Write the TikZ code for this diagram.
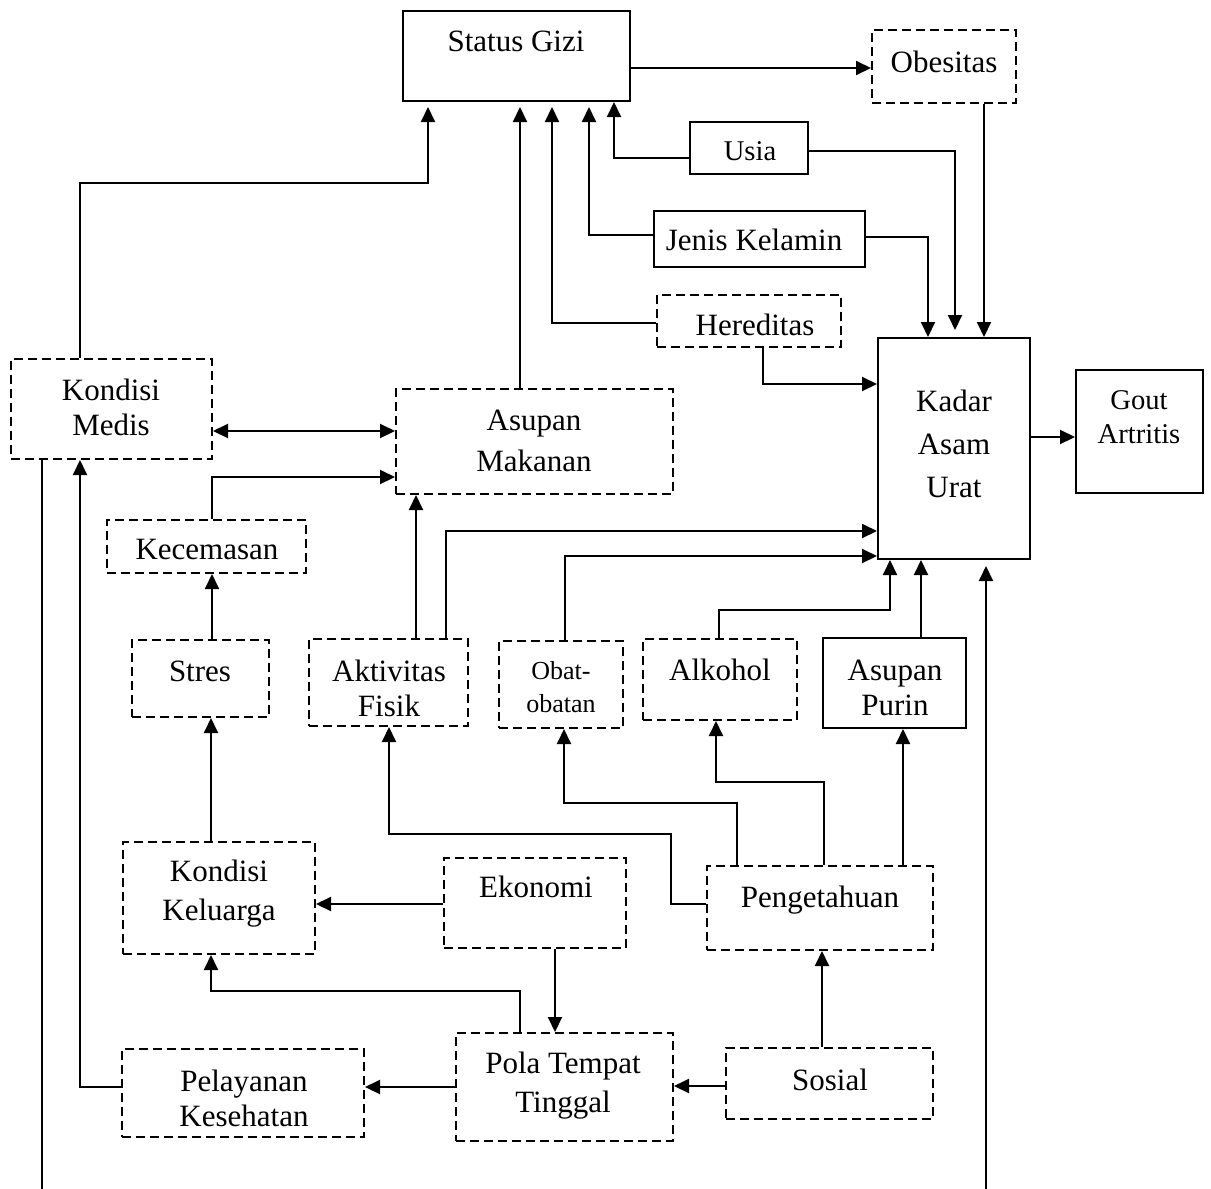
\documentclass[tikz,border=0pt]{standalone}
\usepackage{fontspec}
\setmainfont{Liberation Serif}
\usetikzlibrary{arrows.meta,fit}

\begin{document}
\begin{tikzpicture}[x=0.5pt,y=-0.5pt,
  solidbox/.style={draw, line width=1pt, inner sep=0pt},
  dashbox/.style={draw, line width=1pt, inner sep=0pt, dash pattern=on 4.5pt off 2.5pt},
  lbl/.style={font=\fontsize{15.5}{17.5}\selectfont, align=center, inner sep=0pt},
  smalllbl/.style={font=\fontsize{14.3}{17}\selectfont, align=center, inner sep=0pt},
  conn/.style={line width=1pt},
  arr/.style={conn, -{Triangle[length=7.5pt,width=7pt]}},
  arrtwo/.style={conn, {Triangle[length=7.5pt,width=7pt]}-{Triangle[length=7.5pt,width=7pt]}},
  gap/.style={shorten >=2.5pt}]

\useasboundingbox (0,0) rectangle (1211,1189);

% ---------- boxes ----------
\node[solidbox, fit={(403,11) (630,101)}]  (sg) {};
\node[dashbox,  fit={(872,30) (1016,103)}] (ob) {};
\node[solidbox, fit={(690,122) (808,174)}] (us) {};
\node[solidbox, fit={(654,211) (865,267)}] (jk) {};
\node[dashbox,  fit={(657,295) (841,347)}] (he) {};
\node[dashbox,  fit={(11,359) (212,459)}]  (km) {};
\node[dashbox,  fit={(396,389) (673,494)}] (am) {};
\node[solidbox, fit={(878,338) (1030,559)}] (ka) {};
\node[solidbox, fit={(1076,370) (1203,493)}] (ga) {};
\node[dashbox,  fit={(107,520) (306,573)}] (kc) {};
\node[dashbox,  fit={(132,640) (269,717)}] (st) {};
\node[dashbox,  fit={(309,639) (468,726)}] (af) {};
\node[dashbox,  fit={(499,641) (623,728)}] (oo) {};
\node[dashbox,  fit={(643,639) (797,720)}] (al) {};
\node[solidbox, fit={(823,638) (966,728)}] (ap) {};
\node[dashbox,  fit={(123,842) (315,954)}] (kk) {};
\node[dashbox,  fit={(444,858) (626,948)}] (ek) {};
\node[dashbox,  fit={(707,866) (933,950)}] (pg) {};
\node[dashbox,  fit={(456,1033) (673,1141)}] (pt) {};
\node[dashbox,  fit={(122,1049) (364,1137)}] (pk) {};
\node[dashbox,  fit={(726,1048) (933,1119)}] (so) {};

% ---------- labels ----------
\node[lbl] (sgT) at (516,41) {Status Gizi};
\node[lbl] (obT) at (944,62) {Obesitas};
\node[smalllbl] (usT) at (750,151) {Usia};
\node[lbl] (jkT) at (754,240) {Jenis Kelamin};
\node[lbl] (heT) at (755,325) {Hereditas};
\node[lbl] (kmT) at (111,407) {Kondisi\\Medis};
\node[lbl, font=\fontsize{15.5}{20.5}\selectfont] (amT) at (534,441) {Asupan\\Makanan};
\node[lbl, font=\fontsize{15.5}{21.5}\selectfont] (kaT) at (954,444) {Kadar\\Asam\\Urat};
\node[smalllbl] (gaT) at (1139,417) {Gout\\Artritis};
\node[lbl] (kcT) at (207,549) {Kecemasan};
\node[lbl] (stT) at (200,671) {Stres};
\node[lbl] (afT) at (389,688) {Aktivitas\\Fisik};
\node[lbl, font=\fontsize{13}{16.5}\selectfont] (ooT) at (561,687) {Obat-\\obatan};
\node[lbl] (alT) at (720,670) {Alkohol};
\node[lbl] (apT) at (895,688) {Asupan\\Purin};
\node[lbl, font=\fontsize{15.5}{19.5}\selectfont] (kkT) at (219,894) {Kondisi\\Keluarga};
\node[lbl] (ekT) at (536,887) {Ekonomi};
\node[lbl] (pgT) at (820,900) {Pengetahuan};
\node[lbl, font=\fontsize{15.5}{19.5}\selectfont] (ptT) at (563,1086) {Pola Tempat\\Tinggal};
\node[lbl] (pkT) at (244,1098) {Pelayanan\\Kesehatan};
\node[lbl] (soT) at (830,1080) {Sosial};

% ---------- free ends ----------
\coordinate (leftEnd)  at (42,1189);
\coordinate (rightEnd) at (986,1189);
\coordinate (rightTip) at (986,566);

% ---------- connectors into Status Gizi ----------
\draw[arr] (sg.east |- 0,68) -- (ob.west |- 0,68);
\draw[arr] (us.west |- 0,158) -| (sg.south -| 614,0);
\draw[arr, gap] (jk.west |- 0,235) -| (sg.south -| 589,0);
\draw[arr, gap] (he.west |- 0,323) -| (sg.south -| 552,0);
\draw[arr, gap] (am.north -| 520,0) -- (sg.south -| 520,0);
\draw[arr, gap] (km.north -| 80,0) -- (80,183) -| (sg.south -| 428,0);

% ---------- connectors into Kadar Asam Urat ----------
\draw[arr] (ob.south -| 984,0) -- (ka.north -| 984,0);
\draw[arr, shorten >=3.5pt] (us.east |- 0,151) -| (ka.north -| 955,0);
\draw[arr] (jk.east |- 0,237) -| (ka.north -| 928,0);
\draw[arr] (he.south -| 763,0) |- (ka.west |- 0,384);
\draw[arr] (af.north -| 446,0) |- (ka.west |- 0,531);
\draw[arr] (oo.north -| 565,0) |- (ka.west |- 0,556);
\draw[arr] (al.north -| 719,0) -- (719,610) -| (ka.south -| 890,0);
\draw[arr] (ap.north -| 921,0) -- (ka.south -| 921,0);
\draw[arr] (rightEnd) -- (rightTip);
\draw[arr] (ka.east |- 0,437) -- (ga.west |- 0,437);

% ---------- left part ----------
\draw[arrtwo] (km.east |- 0,431) -- (am.west |- 0,431);
\draw[arr] (kc.north -| 212,0) |- (am.west |- 0,477);
\draw[arr] (st.north -| 212,0) -- (kc.south -| 212,0);
\draw[arr] (af.north -| 416,0) -- (am.south -| 416,0);
\draw[conn] (leftEnd) -- (km.south -| 42,0);
\draw[arr] (pk.west |- 0,1087) -| (km.south -| 80,0);
\draw[arr] (kk.north -| 211,0) -- (st.south -| 211,0);

% ---------- lower part ----------
\draw[arr] (pt.west |- 0,1087) -- (pk.east |- 0,1087);
\draw[arr] (so.west |- 0,1086) -- (pt.east |- 0,1086);
\draw[arr] (so.north -| 822,0) -- (pg.south -| 822,0);
\draw[arr] (ek.south -| 555,0) -- (pt.north -| 555,0);
\draw[arr] (ek.west |- 0,904) -- (kk.east |- 0,904);
\draw[arr] (pt.north -| 520,0) -- (520,991) -| (kk.south -| 211,0);
\draw[arr] (pg.west |- 0,904) -- (671,904) -- (671,834) -| (af.south -| 389,0);
\draw[arr] (pg.north -| 737,0) -- (737,803) -| (oo.south -| 564,0);
\draw[arr] (pg.north -| 824,0) -- (824,782) -| (al.south -| 716,0);
\draw[arr] (pg.north -| 903,0) -- (ap.south -| 903,0);

\end{tikzpicture}
\end{document}
